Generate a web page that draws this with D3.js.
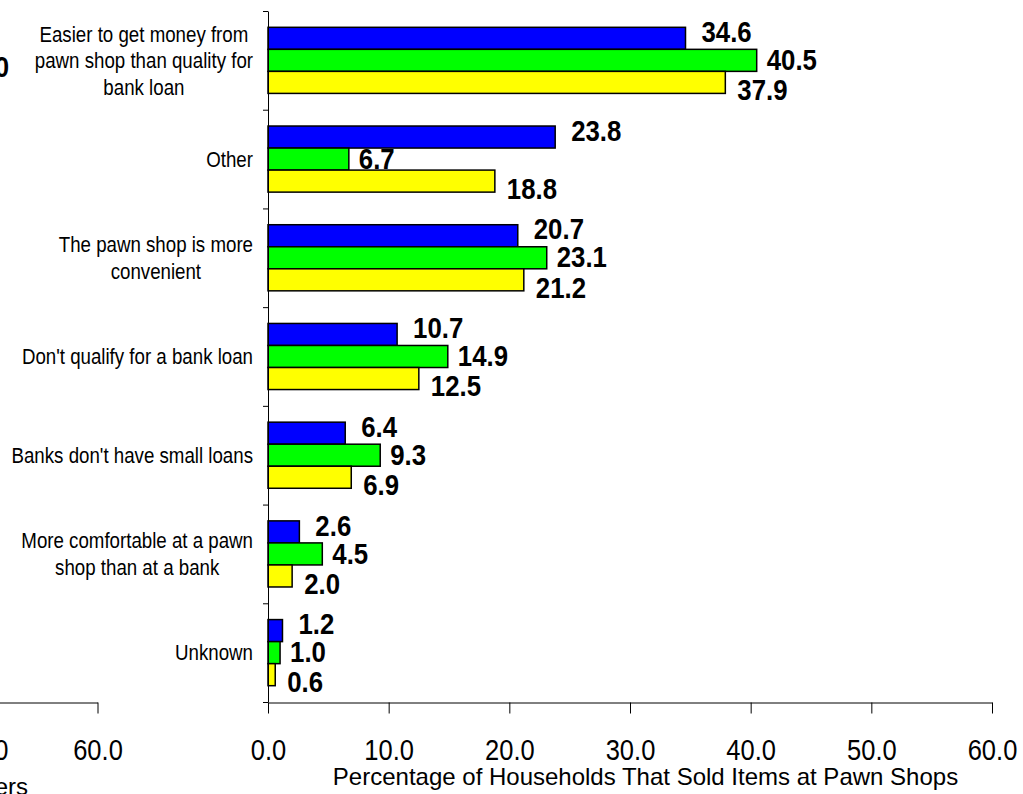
<!DOCTYPE html>
<html>
<head>
<meta charset="utf-8">
<script src="https://cdn.jsdelivr.net/npm/d3@7"></script>
<style>
  html, body { margin: 0; padding: 0; background: #fff; }
  svg { display: block; font-family: Arial, "Liberation Sans", sans-serif; }
</style>
</head>
<body>
<svg id="chart" width="1023" height="794"></svg>
<script>
// Reasons for using pawn shops, three survey groups
const categories = [
  "Easier to get money from\npawn shop than quality for\nbank loan",
  "Other",
  "The pawn shop is more\nconvenient",
  "Don't qualify for a bank loan",
  "Banks don't have small loans",
  "More comfortable at a pawn\nshop than at a bank",
  "Unknown"
];
const seriesKeys = ["s1", "s2", "s3"];
const valuesS1 = [34.6, 23.8, 20.7, 10.7, 6.4, 2.6, 1.2];
const valuesS2 = [40.5, 6.7, 23.1, 14.9, 9.3, 4.5, 1.0];
const valuesS3 = [37.9, 18.8, 21.2, 12.5, 6.9, 2.0, 0.6];
const xTicks = [0, 10, 20, 30, 40, 50, 60];
const leftPanelTicks = [50, 60];
const xTitle = "Percentage of Households That Sold Items at Pawn Shops";

const seriesValues = { s1: valuesS1, s2: valuesS2, s3: valuesS3 };
const colors = { s1: "#0000ff", s2: "#00ff00", s3: "#ffff00" };
// per-series nudge of the value labels from the bar end
const labelNudge = { s1: { dx: 16, dy: -7 }, s2: { dx: 10, dy: -1 }, s3: { dx: 12, dy: 7 } };

const svg = d3.select("#chart");

const x = d3.scaleLinear().domain([0, 60]).range([268, 992]);
const y = d3.scaleBand().domain(categories).range([11, 702]);
const inner = d3.scaleBand().domain(seriesKeys).range([0, y.bandwidth()]).paddingOuter(0.74);

// ---- neighbouring panel (partly visible at the left edge) ----
const leftPanel = svg.append("g");
const xLeft = d3.scaleLinear().domain([0, 60]).range([97.5 - 60 * 11.45, 97.5]);
const leftAxis = leftPanel.append("g")
  .attr("transform", "translate(0,702.5)")
  .call(d3.axisBottom(xLeft).tickValues(leftPanelTicks).tickSize(11).tickSizeOuter(0)
    .tickFormat(d => d.toFixed(1)));
leftAxis.select(".domain").attr("stroke", "#000");
leftAxis.selectAll(".tick line").attr("stroke", "#000");
leftAxis.selectAll(".tick text")
  .attr("y", 57.5).attr("dy", 0)
  .attr("font-size", 30).attr("font-family", "Arial, 'Liberation Sans', sans-serif")
  .attr("fill", "#000")
  .attr("transform", "scale(0.85,1)");
leftPanel.append("text")
  .attr("x", 9).attr("y", 77).attr("text-anchor", "end")
  .attr("font-size", 30).attr("font-weight", "bold")
  .attr("transform", "translate(9,0) scale(0.86,1) translate(-9,0)")
  .text("0");
leftPanel.append("text")
  .attr("x", 28).attr("y", 795).attr("text-anchor", "end")
  .attr("font-size", 24)
  .text("ers");

// ---- bars ----
const groups = svg.append("g").selectAll("g")
  .data(categories)
  .join("g")
  .attr("transform", d => `translate(0,${y(d)})`);

groups.selectAll("rect")
  .data((d, i) => seriesKeys.map(k => ({ key: k, value: seriesValues[k][i] })))
  .join("rect")
  .attr("x", x(0))
  .attr("y", d => inner(d.key))
  .attr("width", d => x(d.value) - x(0))
  .attr("height", inner.bandwidth())
  .attr("fill", d => colors[d.key])
  .attr("stroke", "#000")
  .attr("stroke-width", 1.5);

// value labels
groups.selectAll("text.val")
  .data((d, i) => seriesKeys.map(k => ({ key: k, value: seriesValues[k][i] })))
  .join("text")
  .attr("class", "val")
  .attr("font-size", 30)
  .attr("font-weight", "bold")
  .attr("fill", "#000")
  .attr("transform", d => {
    const tx = x(d.value) + labelNudge[d.key].dx;
    const ty = inner(d.key) + inner.bandwidth() / 2 + labelNudge[d.key].dy + 10.7;
    return `translate(${tx},${ty}) scale(0.86,1)`;
  })
  .text(d => d.value.toFixed(1));

// ---- y axis: ticks at the category boundaries ----
const yEdges = d3.scaleLinear().domain([0, categories.length]).range([11, 702]);
const yAxis = svg.append("g")
  .attr("transform", `translate(${x(0)},0)`)
  .call(d3.axisLeft(yEdges).ticks(categories.length).tickSize(5).tickSizeOuter(0).tickFormat(""));
yAxis.select(".domain").attr("stroke", "#000");
yAxis.selectAll(".tick line").attr("stroke", "#000");

// category labels: right-aligned block, lines centred inside it
const lineGap = 26.5;
categories.forEach(cat => {
  const lines = cat.split("\n");
  const cy = y(cat) + y.bandwidth() / 2;
  const g = svg.append("g").attr("transform", `translate(253,${cy}) scale(0.85,1)`);
  const texts = lines.map((ln, j) =>
    g.append("text")
      .attr("font-size", 22)
      .attr("fill", "#000")
      .attr("y", (j - (lines.length - 1) / 2) * lineGap + 7.8)
      .text(ln));
  const widths = texts.map(t => t.node().getComputedTextLength());
  const W = d3.max(widths);
  texts.forEach(t => t.attr("text-anchor", "middle").attr("x", -W / 2));
});

// ---- x axis ----
const xAxis = svg.append("g")
  .attr("transform", "translate(0,702.5)")
  .call(d3.axisBottom(x).tickValues(xTicks).tickSize(11).tickSizeOuter(0)
    .tickFormat(d => d.toFixed(1)));
xAxis.select(".domain").attr("stroke", "#000");
xAxis.selectAll(".tick line").attr("stroke", "#000");
xAxis.selectAll(".tick text")
  .attr("y", 57.5).attr("dy", 0)
  .attr("font-size", 30).attr("font-family", "Arial, 'Liberation Sans', sans-serif")
  .attr("fill", "#000")
  .attr("transform", "scale(0.85,1)");

svg.append("text")
  .attr("x", 645.5).attr("y", 785)
  .attr("text-anchor", "middle")
  .attr("font-size", 24)
  .attr("fill", "#000")
  .text(xTitle);
</script>
</body>
</html>
